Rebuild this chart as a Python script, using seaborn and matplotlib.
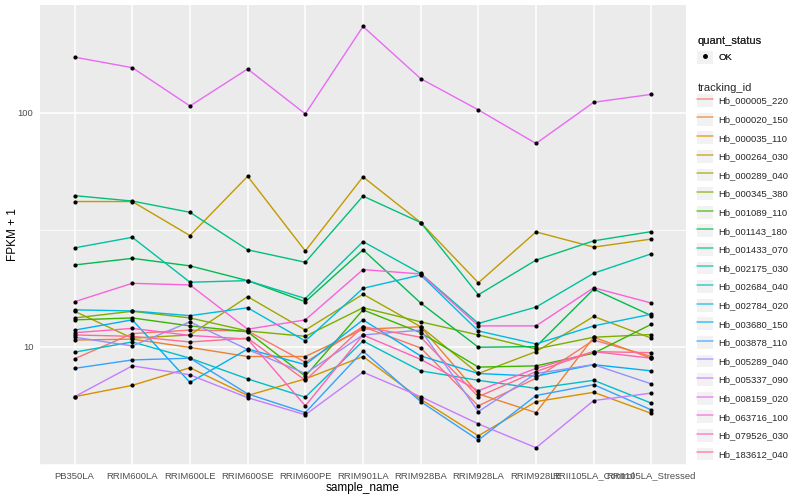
import numpy as np
import pandas as pd
import matplotlib
matplotlib.use("Agg")
import matplotlib.pyplot as plt
import seaborn as sns
from matplotlib.lines import Line2D
from matplotlib.patches import Rectangle
from matplotlib.ticker import FixedLocator, FixedFormatter, NullFormatter

samples = ["PB350LA", "RRIM600LA", "RRIM600LE", "RRIM600SE", "RRIM600PE",
           "RRIM901LA", "RRIM928BA", "RRIM928LA", "RRIM928LE",
           "RRII105LA_Control", "RRII105LA_Stressed"]

tracking_ids = ["Hb_000005_220", "Hb_000020_150", "Hb_000035_110", "Hb_000264_030",
                "Hb_000289_040", "Hb_000345_380", "Hb_001089_110", "Hb_001143_180",
                "Hb_001433_070", "Hb_002175_030", "Hb_002684_040", "Hb_002784_020",
                "Hb_003680_150", "Hb_003878_110", "Hb_005289_040", "Hb_005337_090",
                "Hb_008159_020", "Hb_063716_100", "Hb_079526_030", "Hb_183612_040"]

palette = ["#F8766D", "#EA8331", "#D89000", "#C09B00", "#A3A500", "#7CAE00",
           "#39B600", "#00BB4E", "#00BF7D", "#00C1A3", "#00BFC4", "#00BAE0",
           "#00B0F6", "#35A2FF", "#9590FF", "#C77CFF", "#E76BF3", "#FA62DB",
           "#FF62BC", "#FF6C91"]

hb_000005_220 = [8.9, 11.4, 11.8, 11.7, 8.6, 12.2, 9.9, 5.6, 7.35, 10.7, 9.1]
hb_000020_150 = [10.7, 10.8, 9.95, 9.1, 9.1, 11.9, 12.2, 6.3, 5.24, 11.0, 8.95]
hb_000035_110 = [6.13, 6.85, 8.15, 6.2, 7.3, 9.1, 5.98, 4.17, 5.84, 6.4, 5.2]
hb_000264_030 = [41.8, 41.8, 29.9, 53.6, 25.7, 53.3, 34.0, 18.8, 31.0, 26.7, 28.9]
hb_000289_040 = [14.2, 10.9, 11.25, 16.4, 11.8, 16.8, 12.2, 7.7, 9.55, 13.5, 10.9]
hb_000345_380 = [13.3, 14.2, 13.3, 11.7, 11.1, 14.7, 12.8, 11.25, 9.8, 11.0, 11.3]
hb_001089_110 = [13.05, 13.3, 12.3, 11.6, 7.5, 14.4, 11.5, 8.2, 8.3, 9.4, 12.5]
hb_001143_180 = [22.4, 23.9, 22.2, 19.2, 15.6, 26.0, 15.4, 9.97, 10.03, 17.65, 13.6]
hb_001433_070 = [44.3, 42.0, 37.6, 26.0, 23.0, 44.1, 34.0, 16.7, 23.5, 28.4, 31.1]
hb_002175_030 = [26.5, 29.4, 18.9, 19.2, 16.1, 28.2, 20.6, 12.6, 14.8, 20.65, 25.0]
hb_002684_040 = [9.5, 10.5, 8.95, 7.3, 6.1, 10.6, 7.9, 7.2, 6.65, 7.2, 5.75]
hb_002784_020 = [14.4, 14.25, 13.6, 14.7, 10.6, 17.8, 20.3, 11.7, 10.3, 12.3, 13.8]
hb_003680_150 = [11.8, 13.05, 7.05, 9.8, 8.4, 13.05, 9.15, 7.7, 7.5, 8.4, 7.9]
hb_003878_110 = [8.1, 8.8, 8.95, 6.3, 5.24, 9.6, 5.84, 4.0, 6.2, 6.9, 5.38]
hb_005289_040 = [11.0, 10.1, 12.8, 9.75, 7.7, 11.25, 11.8, 5.29, 7.7, 8.4, 6.95]
hb_005337_090 = [6.13, 8.3, 7.6, 6.07, 5.13, 7.8, 6.13, 4.69, 3.71, 5.9, 6.35]
hb_008159_020 = [173, 156, 107, 154, 99, 234, 140, 103, 74, 111, 120]
hb_063716_100 = [15.6, 18.7, 18.4, 11.9, 13.05, 21.4, 20.5, 12.3, 12.3, 17.9, 15.4]
hb_079526_030 = [11.5, 12.0, 11.2, 10.8, 5.6, 11.25, 8.85, 6.5, 8.1, 9.55, 8.95]
hb_183612_040 = [11.25, 11.1, 10.5, 10.9, 7.2, 12.2, 11.0, 6.13, 7.85, 9.55, 9.45]

series_values = [hb_000005_220, hb_000020_150, hb_000035_110, hb_000264_030,
                 hb_000289_040, hb_000345_380, hb_001089_110, hb_001143_180,
                 hb_001433_070, hb_002175_030, hb_002684_040, hb_002784_020,
                 hb_003680_150, hb_003878_110, hb_005289_040, hb_005337_090,
                 hb_008159_020, hb_063716_100, hb_079526_030, hb_183612_040]

y_major = [10, 100]
y_minor = [10 ** 0.5, 10 ** 1.5, 10 ** 2.5]

rows = []
for tid, vals in zip(tracking_ids, series_values):
    for s, v in zip(samples, vals):
        rows.append({"tracking_id": tid, "sample_name": s, "fpkm": v, "quant_status": "OK"})
df = pd.DataFrame(rows)

sns.set_style("whitegrid")
plt.rcParams["font.family"] = ["Liberation Sans", "DejaVu Sans"]

fig = plt.figure(figsize=(8, 5), dpi=100)
ax = fig.add_axes([0.05, 0.07, 0.8075, 0.92])
ax.set_facecolor("#EBEBEB")
for sp in ax.spines.values():
    sp.set_visible(False)

sns.lineplot(data=df, x="sample_name", y="fpkm", hue="tracking_id",
             hue_order=tracking_ids, palette=palette, sort=False,
             estimator=None, linewidth=1.0, legend=False, ax=ax, zorder=2)
sns.scatterplot(data=df, x="sample_name", y="fpkm", color="black", s=9,
                linewidth=0, legend=False, ax=ax, zorder=3)

ax.set_yscale("log")
ax.set_xlim(-0.6, 10.6)
ax.set_ylim(3.13, 289)
ax.yaxis.set_major_locator(FixedLocator(y_major))
ax.yaxis.set_major_formatter(FixedFormatter([str(v) for v in y_major]))
ax.yaxis.set_minor_locator(FixedLocator(y_minor))
ax.yaxis.set_minor_formatter(NullFormatter())

ax.grid(False)
ax.grid(which="major", axis="both", color="white", linewidth=1.1)
ax.grid(which="minor", axis="y", color="white", linewidth=0.55)
ax.set_axisbelow(True)

ax.tick_params(axis="both", which="major", length=2.8, width=0.7, color="#333333",
               labelsize=6.8, labelcolor="#4D4D4D", pad=2)
ax.tick_params(axis="y", which="minor", length=0)
ax.set_xlabel("sample_name", fontsize=8.5, color="black", labelpad=1)
ax.set_ylabel("FPKM + 1", fontsize=8.5, color="black")
ax.yaxis.set_label_coords(-0.033, 0.5)

# legends
h1 = [(Rectangle((0, 0), 1, 1, facecolor="#F2F2F2", edgecolor="none"),
       Line2D([], [], marker="o", color="black", linestyle="none", markersize=2.5))]
leg1 = fig.legend(handles=h1, labels=["OK"], title="quant_status",
                  loc="upper left", bbox_to_anchor=(0.867, 0.935),
                  frameon=False, fontsize=6.8, title_fontsize=8,
                  handlelength=1.7, handleheight=1.7, handletextpad=0.5,
                  borderaxespad=0, alignment="left")
fig.add_artist(leg1)

h2 = [(Rectangle((0, 0), 1, 1, facecolor="#F2F2F2", edgecolor="none"),
       Line2D([], [], color=c, linewidth=1.1, alpha=0.75)) for c in palette]
leg2 = fig.legend(handles=h2, labels=tracking_ids, title="tracking_id",
                  loc="upper left", bbox_to_anchor=(0.867, 0.842),
                  frameon=False, fontsize=6.8, title_fontsize=8,
                  handlelength=1.7, handleheight=1.7, handletextpad=0.5,
                  labelspacing=0.62, borderaxespad=0, alignment="left")
leg2._legend_box.sep = 1

fig.savefig("out.png", dpi=100, facecolor="white")
